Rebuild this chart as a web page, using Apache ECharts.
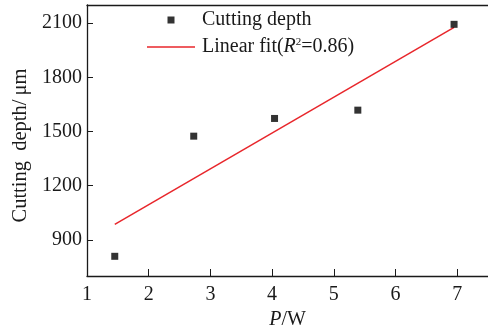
<!DOCTYPE html>
<html>
<head>
<meta charset="utf-8">
<script src="https://cdn.jsdelivr.net/npm/echarts@6/dist/echarts.min.js"></script>
<style>
  html, body { margin: 0; padding: 0; background: #fff; }
  #chart { width: 488px; height: 335px; }
</style>
</head>
<body>
<div id="chart"></div>
<script>
// Laser power P (W) and measured cutting depth (μm)
const powerW = [1.45, 2.73, 4.04, 5.39, 6.95];
const depthUm = [809, 1474, 1572, 1618, 2093];

// Endpoints of the linear fit line
const fitPower = [1.45, 6.95];
const fitDepth = [986, 2076];

// Tick labels
const xTicks = [1, 2, 3, 4, 5, 6, 7];
const yTicks = [900, 1200, 1500, 1800, 2100];

const FONT = '"Liberation Serif", "Times New Roman", serif';
const INK = '#1a1a1a';
const RED = '#e8262b';

const chart = echarts.init(document.getElementById('chart'), null, { renderer: 'canvas' });

chart.setOption({
  animation: false,
  backgroundColor: '#fff',
  textStyle: { fontFamily: FONT, color: INK },
  grid: { left: 87, top: 5, right: 0, bottom: 49, containLabel: false },
  legend: {
    orient: 'vertical',
    left: 142,
    top: 5,
    itemWidth: 48,
    itemHeight: 7,
    itemGap: 7,
    symbolKeepAspect: true,
    data: [
      { name: 'Cutting depth', icon: 'path://M0,0L10,0L10,10L0,10Z', itemStyle: { color: '#000' } },
      { name: 'Linear fit(R\u00B2=0.86)', icon: 'path://M0,0L64,0L64,2L0,2Z', itemStyle: { color: RED } }
    ],
    formatter: function (name) {
      return name.indexOf('Linear') === 0 ? 'Linear fit({i|R}{s|2}=0.86)' : name;
    },
    textStyle: {
      fontFamily: FONT, fontSize: 20, color: INK, padding: [0, 0, 0, 2],
      rich: {
        i: { fontFamily: FONT, fontSize: 20, fontStyle: 'italic', color: INK },
        s: { fontFamily: FONT, fontSize: 11, color: INK, verticalAlign: 'top', padding: [0, 0, 8, 0] }
      }
    }
  },
  xAxis: [
    {
      type: 'value',
      min: 1,
      max: 7.5,
      name: '{i|P}/W',
      nameLocation: 'middle',
      nameGap: 34,
      nameTextStyle: {
        fontFamily: FONT, fontSize: 20, color: INK,
        rich: { i: { fontFamily: FONT, fontSize: 20, fontStyle: 'italic', color: INK } }
      },
      splitLine: { show: false },
      axisLine: { show: true, lineStyle: { color: INK, width: 1.3 } },
      axisTick: { show: true, inside: true, length: 7, customValues: xTicks, lineStyle: { color: INK, width: 1 } },
      axisLabel: { customValues: xTicks, formatter: v => String(v), fontFamily: FONT, fontSize: 20, color: INK, margin: 9 }
    },
    {
      type: 'value',
      position: 'top',
      min: 1,
      max: 7.5,
      splitLine: { show: false },
      axisLine: { show: true, lineStyle: { color: INK, width: 1.3 } },
      axisTick: { show: false },
      axisLabel: { show: false }
    }
  ],
  yAxis: {
    type: 'value',
    min: 700,
    max: 2200,
    name: 'Cutting  depth/\u2009\u03BCm',
    nameLocation: 'middle',
    nameGap: 47,
    nameTextStyle: { fontFamily: FONT, fontSize: 20.5, color: INK, padding: [0, 10, 0, 0] },
    splitLine: { show: false },
    axisLine: { show: true, lineStyle: { color: INK, width: 1.3 } },
    axisTick: { show: true, inside: true, length: 6, customValues: yTicks, lineStyle: { color: INK, width: 1 } },
    axisLabel: { customValues: yTicks, formatter: v => String(v), fontFamily: FONT, fontSize: 20, color: INK, margin: 5 }
  },
  series: [
    {
      name: 'Cutting depth',
      type: 'scatter',
      symbol: 'rect',
      symbolSize: 7,
      itemStyle: { color: '#000' },
      data: powerW.map((p, i) => [p, depthUm[i]]),
      z: 3
    },
    {
      name: 'Linear fit(R\u00B2=0.86)',
      type: 'line',
      symbol: 'none',
      lineStyle: { color: RED, width: 1.5 },
      itemStyle: { color: RED },
      data: fitPower.map((p, i) => [p, fitDepth[i]]),
      z: 2
    }
  ]
});
</script>
</body>
</html>
